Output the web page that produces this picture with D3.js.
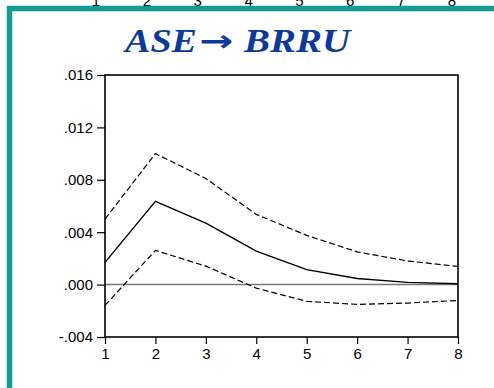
<!DOCTYPE html>
<html>
<head>
<meta charset="utf-8">
<script src="https://cdn.jsdelivr.net/npm/d3@7"></script>
<style>
  html, body { margin: 0; padding: 0; background: #fff; }
  svg { display: block; }
</style>
</head>
<body>
<div id="chart"></div>
<script>
// impulse response of BRRU to a shock in ASE, with +/- 2 s.e. bands
const periods = [1, 2, 3, 4, 5, 6, 7, 8];
const response = [0.0017, 0.00635, 0.0047, 0.00255, 0.00114, 0.00047, 0.00017, 0.00007];
const upperBand = [0.0050, 0.0100, 0.0081, 0.00536, 0.00376, 0.0025, 0.0018, 0.00139];
const lowerBand = [-0.00159, 0.00261, 0.00141, -0.00027, -0.00128, -0.00151, -0.00141, -0.00121];
const yTicks = [-0.004, 0.000, 0.004, 0.008, 0.012, 0.016];
const yTickLabels = ['-.004', '.000', '.004', '.008', '.012', '.016'];

const W = 494, H = 388;
const plotLeft = 105, plotRight = 458, plotTop = 75, plotBottom = 337;

const svg = d3.select('#chart').append('svg').attr('width', W).attr('height', H);
svg.append('rect').attr('width', W).attr('height', H).attr('fill', '#fff');

const x = d3.scaleLinear().domain([1, 8]).range([plotLeft, plotRight]);
const y = d3.scaleLinear().domain([-0.004, 0.016]).range([plotBottom, plotTop]);

// x-axis labels of the panel above, cut off by the top edge
const xPrev = d3.scaleLinear().domain([1, 8]).range([96, 452]);
svg.append('g').selectAll('text').data(periods).join('text')
  .attr('x', d => xPrev(d)).attr('y', 6)
  .attr('text-anchor', 'middle').attr('font-family', 'Liberation Sans, Arial, sans-serif')
  .attr('font-size', 15).attr('fill', '#000').text(d => d);

// teal frame
svg.append('rect').attr('x', 9.5).attr('y', 8.5).attr('width', 600).attr('height', 600)
  .attr('fill', 'none').attr('stroke', '#139c96').attr('stroke-width', 5.5);

// title
const title = svg.append('text').attr('y', 52)
  .attr('font-family', 'Liberation Serif, Times New Roman, serif')
  .attr('font-size', 33).attr('font-weight', 'bold').attr('font-style', 'italic')
  .attr('fill', '#0b3a9e');
title.append('tspan').attr('x', 125).attr('textLength', 72).attr('lengthAdjust', 'spacingAndGlyphs').text('ASE');
title.append('tspan').attr('x', 199).attr('dy', -1).attr('textLength', 34).attr('lengthAdjust', 'spacingAndGlyphs')
  .attr('font-family', 'DejaVu Sans, sans-serif').attr('font-style', 'normal')
  .attr('font-size', 30).text('→');
title.append('tspan').attr('x', 244).attr('dy', 1).attr('textLength', 106).attr('lengthAdjust', 'spacingAndGlyphs').text('BRRU');

const font = 'Liberation Sans, Arial, sans-serif';

// y axis
const yAxis = svg.append('g').attr('transform', `translate(${plotLeft},0)`)
  .call(d3.axisLeft(y).tickValues(yTicks).tickSize(8).tickPadding(4)
    .tickFormat((d, i) => yTickLabels[i]));
yAxis.select('.domain').remove();
yAxis.selectAll('line').attr('stroke', '#000').attr('stroke-width', 1.2);
yAxis.selectAll('text').attr('font-family', font).attr('font-size', 15).attr('fill', '#000');

// x axis
const xAxis = svg.append('g').attr('transform', `translate(0,${plotBottom})`)
  .call(d3.axisBottom(x).tickValues(periods).tickSize(7).tickPadding(4).tickFormat(d3.format('d')));
xAxis.select('.domain').remove();
xAxis.selectAll('line').attr('stroke', '#000').attr('stroke-width', 1.2);
xAxis.selectAll('text').attr('font-family', font).attr('font-size', 15).attr('fill', '#000');

// zero line
svg.append('line').attr('x1', plotLeft).attr('x2', plotRight).attr('y1', y(0)).attr('y2', y(0))
  .attr('stroke', '#777').attr('stroke-width', 1.5);

const line = d3.line().x((d, i) => x(periods[i])).y(d => y(d));

svg.append('path').datum(upperBand).attr('d', line)
  .attr('fill', 'none').attr('stroke', '#000').attr('stroke-width', 1.2).attr('stroke-dasharray', '6,3');
svg.append('path').datum(lowerBand).attr('d', line)
  .attr('fill', 'none').attr('stroke', '#000').attr('stroke-width', 1.2).attr('stroke-dasharray', '6,3');
svg.append('path').datum(response).attr('d', line)
  .attr('fill', 'none').attr('stroke', '#000').attr('stroke-width', 1.4);

// plot box
svg.append('rect').attr('x', plotLeft).attr('y', plotTop).attr('width', plotRight - plotLeft).attr('height', plotBottom - plotTop)
  .attr('fill', 'none').attr('stroke', '#000').attr('stroke-width', 1.6);
</script>
</body>
</html>
